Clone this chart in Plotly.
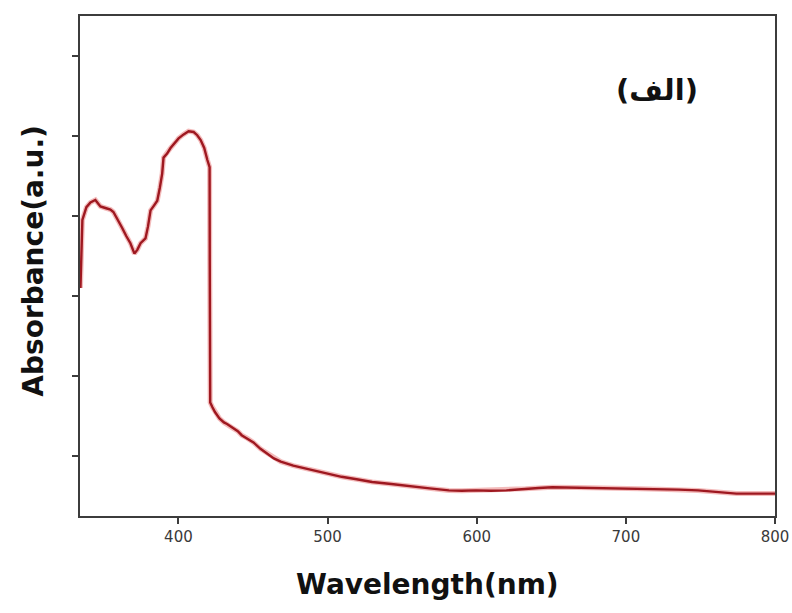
import plotly.graph_objects as go

# UV-Vis absorbance spectrum (arbitrary units)
wavelength_nm = [
    334.3, 335.6, 338.3, 341.0, 344.3, 347.7, 351.0, 354.4, 356.4, 359.5,
    362.3, 365.0, 367.8, 370.5, 372.5, 374.6, 377.9, 379.6, 381.3, 383.6,
    385.8, 387.5, 389.1, 390.0, 392.4, 394.7, 397.5, 400.1, 403.5, 406.8,
    410.2, 412.6, 414.9, 417.3, 419.4, 420.9, 421.0, 421.1, 421.3, 422.8,
    424.5, 427.5, 430.5, 432.6, 434.8, 437.2, 439.8, 442.4, 446.3, 450.3,
    455.0, 459.7, 464.0, 468.6, 477.0, 486.3, 497.0, 509.4, 519.5, 529.9,
    542.7, 555.6, 568.4, 581.3, 590.0, 599.3, 609.5, 619.9, 626.0, 632.7,
    641.5, 650.7, 667.0, 684.2, 697.0, 709.8, 722.6, 735.5, 748.4, 761.3,
    774.1, 787.0, 800.0,
]
absorbance = [
    2.85, 3.70, 3.86, 3.92, 3.95, 3.87, 3.85, 3.83, 3.80, 3.70,
    3.60, 3.50, 3.41, 3.28, 3.33, 3.41, 3.47, 3.62, 3.82, 3.88,
    3.94, 4.10, 4.28, 4.48, 4.53, 4.60, 4.66, 4.72, 4.77, 4.81,
    4.80, 4.76, 4.70, 4.60, 4.45, 4.36, 3.20, 2.20, 1.42, 1.36,
    1.30, 1.22, 1.17, 1.15, 1.12, 1.09, 1.06, 1.01, 0.97, 0.92,
    0.84, 0.78, 0.72, 0.68, 0.63, 0.59, 0.54, 0.49, 0.46, 0.425,
    0.40, 0.37, 0.345, 0.32, 0.315, 0.32, 0.315, 0.32, 0.33, 0.34,
    0.35, 0.36, 0.355, 0.355, 0.345, 0.34, 0.335, 0.33, 0.32, 0.30,
    0.28, 0.28, 0.28,
]

x_ticks = [400, 500, 600, 700, 800]
y_ticks = [0.75, 1.75, 2.75, 3.75, 4.75, 5.75]

panel_label = "(الف)"
x_title = "Wavelength(nm)"
y_title = "Absorbance(a.u.)"

fig = go.Figure()

# soft halo beneath the spectrum line
fig.add_trace(go.Scatter(
    x=wavelength_nm, y=absorbance, mode="lines",
    line=dict(color="rgba(220,60,60,0.35)", width=5),
    hoverinfo="skip", showlegend=False,
))
fig.add_trace(go.Scatter(
    x=wavelength_nm, y=absorbance, mode="lines",
    line=dict(color="#9e1820", width=2.4),
    showlegend=False,
))

axis_common = dict(
    showgrid=False, zeroline=False, showline=True, mirror=True,
    linecolor="#3c3c3c", linewidth=2, automargin=False,
    ticks="outside", tickcolor="#3c3c3c", tickwidth=1.5, ticklen=6,
)

fig.update_xaxes(
    range=[334, 800], tickvals=x_ticks,
    tickfont=dict(family="DejaVu Sans", size=15, color="#3a3a3a"),
    ticklabeloverflow="allow",
    **axis_common,
)
fig.update_yaxes(
    range=[0, 6.25], tickvals=y_ticks, showticklabels=False,
    **axis_common,
)

fig.add_annotation(
    text=x_title, xref="paper", yref="paper", x=0.5, y=-0.136,
    yanchor="middle", xanchor="center", showarrow=False,
    font=dict(family="DejaVu Sans", size=28, color="#111111", weight="bold"),
)
fig.add_annotation(
    text=y_title, xref="paper", yref="paper", x=-0.068, y=0.51,
    xanchor="center", yanchor="middle", textangle=-90, showarrow=False,
    font=dict(family="DejaVu Sans", size=28, color="#111111", weight="bold"),
)
fig.add_annotation(
    text=panel_label, xref="paper", yref="paper", x=0.83, y=0.852,
    xanchor="center", yanchor="middle", showarrow=False,
    font=dict(family="DejaVu Sans", size=29, color="#111111", weight="bold"),
)

fig.update_layout(
    width=792, height=613,
    margin=dict(l=80, r=17, t=16, b=97),
    paper_bgcolor="white", plot_bgcolor="white",
)

fig.write_html("out.html")
